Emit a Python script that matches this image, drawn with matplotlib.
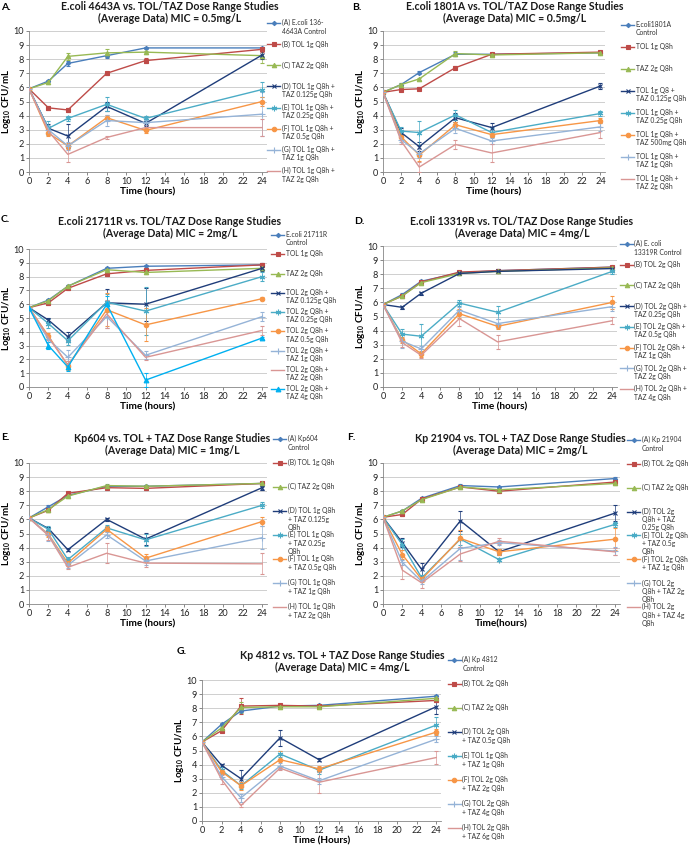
import matplotlib
matplotlib.use('Agg')
import matplotlib.pyplot as plt
from matplotlib.lines import Line2D

plt.rcParams['font.family'] = ['Lato', 'DejaVu Sans']
plt.rcParams['mathtext.fontset'] = 'custom'
plt.rcParams['mathtext.rm'] = 'Lato'
plt.rcParams['mathtext.bf'] = 'Lato:bold'

W, H = 691, 849
times = [0, 2, 4, 8, 12, 24]
xticks = [0, 2, 4, 6, 8, 10, 12, 14, 16, 18, 20, 22, 24]
yticks = [0, 1, 2, 3, 4, 5, 6, 7, 8, 9, 10]

# ---------------- Panel A ----------------
A_title = "E.coli 4643A vs. TOL/TAZ Dose Range Studies\n(Average Data) MIC = 0.5mg/L"
A_labels = ["(A) E.coli 136-\n4643A Control", "(B) TOL 1g Q8h", "(C) TAZ 2g Q8h",
            "(D) TOL 1g Q8h +\nTAZ 0.125g Q8h", "(E) TOL 1g Q8h +\nTAZ 0.25g Q8h",
            "(F) TOL 1g Q8h +\nTAZ 0.5g Q8h", "(G) TOL 1g Q8h +\nTAZ 1g Q8h",
            "(H) TOL 1g Q8h +\nTAZ 2g Q8h"]
A_vals = [[5.9, 6.45, 7.7, 8.25, 8.8, 8.8],
          [5.9, 4.55, 4.4, 7.0, 7.9, 8.7],
          [5.9, 6.35, 8.2, 8.45, 8.5, 8.25],
          [5.9, 3.1, 2.55, 4.65, 3.45, 8.3],
          [5.9, 3.1, 3.8, 4.8, 3.8, 5.85],
          [5.9, 2.75, 1.85, 3.85, 2.95, 5.0],
          [5.9, 3.0, 1.85, 3.65, 3.5, 4.1],
          [5.9, 2.9, 1.25, 2.45, 3.15, 3.15]]
A_errs = [[0, 0.1, 0.15, 0.15, 0.1, 0.1],
          [0, 0.15, 0.15, 0.1, 0.15, 0.2],
          [0, 0.1, 0.25, 0.3, 0.1, 0.5],
          [0, 0.3, 0.85, 0.3, 0.2, 0.3],
          [0, 0.5, 0.2, 0.5, 0.2, 0.55],
          [0, 0.2, 0.2, 0.2, 0.2, 0.3],
          [0, 0.3, 0.3, 0.4, 0.2, 1.55],
          [0, 0.2, 0.55, 0.1, 0.2, 0.6]]

# ---------------- Panel B ----------------
B_title = "E.coli 1801A vs. TOL/TAZ Dose Range Studies\n(Average Data) MIC = 0.5mg/L"
B_labels = ["E.coli1801A\nControl", "TOL 1g Q8h", "TAZ 2g Q8h",
            "TOL 1g Q8 +\nTAZ 0.125g Q8h", "TOL 1g Q8h +\nTAZ 0.25g Q8h",
            "TOL 1g Q8h +\nTAZ 500mg Q8h", "TOL 1g Q8h +\nTAZ 1g Q8h",
            "TOL 1g Q8h +\nTAZ 2g Q8h"]
B_vals = [[5.65, 6.2, 7.05, 8.35, 8.35, 8.45],
          [5.65, 5.85, 5.9, 7.4, 8.35, 8.5],
          [5.65, 6.2, 6.6, 8.4, 8.3, 8.45],
          [5.65, 2.8, 1.8, 3.85, 3.15, 6.1],
          [5.65, 2.9, 2.8, 4.05, 2.8, 4.15],
          [5.65, 2.5, 1.2, 3.35, 2.65, 3.65],
          [5.65, 2.3, 1.3, 3.1, 2.2, 3.2],
          [5.65, 2.2, 0.35, 1.95, 1.35, 2.8]]
B_errs = [[0, 0.1, 0.1, 0.15, 0.1, 0.1],
          [0, 0.1, 0.1, 0.1, 0.1, 0.1],
          [0, 0.1, 0.1, 0.2, 0.1, 0.1],
          [0, 0.3, 0.3, 0.3, 0.3, 0.2],
          [0, 0.3, 0.85, 0.35, 0.35, 0.15],
          [0, 0.2, 0.4, 0.2, 0.2, 0.2],
          [0, 0.2, 0.3, 0.3, 0.2, 0.3],
          [0, 0.2, 0.35, 0.35, 0.65, 0.4]]

# ---------------- Panel C ----------------
C_title = "E.coli 21711R vs. TOL/TAZ Dose Range Studies\n(Average Data) MIC = 2mg/L"
C_labels = ["E.coli 21711R\nControl", "TOL 1g Q8h", "TAZ 2g Q8h",
            "TOL 2g Q8h +\nTAZ 0.125g Q8h", "TOL 2g Q8h +\nTAZ 0.25g Q8h",
            "TOL 2g Q8h +\nTAZ 0.5g Q8h", "TOL 2g Q8h +\nTAZ 1g Q8h",
            "TOL 2g Q8h +\nTAZ 2g Q8h", "TOL 2g Q8h +\nTAZ 4g Q8h"]
C_vals = [[5.75, 6.3, 7.3, 8.6, 8.75, 8.85],
          [5.75, 6.1, 7.15, 8.2, 8.45, 8.85],
          [5.75, 6.25, 7.3, 8.5, 8.3, 8.6],
          [5.75, 4.85, 3.65, 6.1, 6.0, 8.6],
          [5.75, 4.6, 3.35, 6.15, 5.5, 8.0],
          [5.75, 3.7, 1.55, 5.6, 4.5, 6.4],
          [5.75, 3.45, 2.15, 5.1, 2.3, 5.1],
          [5.75, 3.6, 1.6, 5.3, 2.15, 4.1],
          [5.75, 3.0, 1.45, 6.0, 0.5, 3.55]]
C_errs = [[0, 0.1, 0.1, 0.1, 0.1, 0.1],
          [0, 0.15, 0.1, 0.15, 0.1, 0.1],
          [0, 0.1, 0.1, 0.1, 0.1, 0.1],
          [0, 0.15, 0.3, 1.0, 1.2, 0.2],
          [0, 0.3, 0.3, 0.6, 1.75, 0.3],
          [0, 0.2, 0.3, 1.2, 1.2, 0.1],
          [0, 0.2, 0.5, 0.8, 0.3, 0.35],
          [0, 0.2, 0.3, 1.0, 0.2, 0.35],
          [0, 0.25, 0.3, 0.6, 0.5, 0.1]]

# ---------------- Panel D ----------------
D_title = "E.coli 13319R vs. TOL/TAZ Dose Range Studies\n(Average Data) MIC = 4mg/L"
D_labels = ["(A) E. coli\n13319R Control", "(B) TOL 2g Q8h", "(C) TAZ 2g Q8h",
            "(D) TOL 2g Q8h +\nTAZ 0.25g Q8h", "(E) TOL 2g Q8h +\nTAZ 0.5g Q8h",
            "(F) TOL 2g Q8h +\nTAZ 1g Q8h", "(G) TOL 2g Q8h +\nTAZ 2g Q8h",
            "(H) TOL 2g Q8h +\nTAZ 4g Q8h"]
D_vals = [[5.85, 6.55, 7.5, 8.1, 8.25, 8.5],
          [5.85, 6.45, 7.45, 8.15, 8.25, 8.5],
          [5.85, 6.45, 7.4, 8.05, 8.2, 8.45],
          [5.85, 5.65, 6.65, 8.05, 8.2, 8.4],
          [5.85, 3.75, 3.6, 5.95, 5.3, 8.2],
          [5.85, 3.35, 2.35, 5.2, 4.3, 6.0],
          [5.85, 3.25, 2.7, 5.45, 4.5, 5.7],
          [5.85, 3.15, 2.25, 4.85, 3.2, 4.7]]
D_errs = [[0, 0.1, 0.1, 0.1, 0.1, 0.1],
          [0, 0.1, 0.1, 0.1, 0.1, 0.1],
          [0, 0.1, 0.1, 0.1, 0.1, 0.1],
          [0, 0.1, 0.1, 0.1, 0.1, 0.1],
          [0, 0.35, 0.9, 0.2, 0.45, 0.2],
          [0, 0.2, 0.2, 0.3, 0.2, 0.45],
          [0, 0.5, 0.2, 0.2, 0.3, 0.3],
          [0, 0.3, 0.2, 0.5, 0.5, 0.25]]

# ---------------- Panel E ----------------
E_title = "Kp604 vs. TOL + TAZ Dose Range Studies\n(Average Data) MIC = 1mg/L"
E_labels = ["(A) Kp604\nControl", "(B) TOL 1g Q8h", "(C) TAZ 2g Q8h",
            "(D) TOL 1g Q8h\n+ TAZ 0.125g\nQ8h", "(E) TOL 1g Q8h\n+ TAZ 0.25g\nQ8h",
            "(F) TOL 1g Q8h\n+ TAZ 0.5g Q8h", "(G) TOL 1g Q8h\n+ TAZ 1g Q8h",
            "(H) TOL 1g Q8h\n+ TAZ 2g Q8h"]
E_vals = [[6.1, 6.9, 7.7, 8.35, 8.35, 8.55],
          [6.1, 6.65, 7.85, 8.25, 8.2, 8.55],
          [6.1, 6.7, 7.65, 8.4, 8.35, 8.55],
          [6.1, 5.35, 3.85, 6.0, 4.6, 8.25],
          [6.1, 5.3, 3.15, 5.4, 4.55, 7.0],
          [6.1, 4.95, 2.9, 5.3, 3.25, 5.85],
          [6.1, 4.9, 2.75, 4.9, 3.05, 4.7],
          [6.1, 4.85, 2.6, 3.6, 2.9, 2.85]]
E_errs = [[0, 0.1, 0.1, 0.1, 0.1, 0.1],
          [0, 0.1, 0.1, 0.1, 0.1, 0.1],
          [0, 0.1, 0.1, 0.1, 0.1, 0.1],
          [0, 0.1, 0.1, 0.1, 0.45, 0.15],
          [0, 0.2, 0.2, 0.2, 0.45, 0.2],
          [0, 0.2, 0.2, 0.2, 0.3, 0.3],
          [0, 0.45, 0.2, 0.2, 0.3, 0.8],
          [0, 0.3, 0.1, 0.7, 0.3, 0.75]]

# ---------------- Panel F ----------------
F_title = "Kp 21904 vs. TOL + TAZ Dose Range Studies\n(Average Data) MIC = 2mg/L"
F_labels = ["(A) Kp 21904\nControl", "(B) TOL 2g Q8h", "(C) TAZ 2g Q8h",
            "(D) TOL 2g\nQ8h + TAZ\n0.25g Q8h", "(E) TOL 2g Q8h\n+ TAZ 0.5g\nQ8h",
            "(F) TOL 2g Q8h\n+ TAZ 1g Q8h", "(G) TOL 2g\nQ8h + TAZ 2g\nQ8h",
            "(H) TOL 2g\nQ8h + TAZ 4g\nQ8h"]
F_vals = [[6.15, 6.6, 7.5, 8.4, 8.3, 8.9],
          [6.15, 6.35, 7.45, 8.3, 8.0, 8.65],
          [6.15, 6.6, 7.4, 8.3, 8.1, 8.55],
          [6.15, 4.35, 2.45, 5.9, 3.7, 6.45],
          [6.15, 4.2, 1.85, 4.6, 3.15, 5.65],
          [6.15, 3.5, 1.75, 4.65, 3.7, 4.6],
          [6.15, 2.95, 1.6, 3.95, 4.35, 3.75],
          [6.15, 2.4, 1.5, 3.55, 4.45, 3.7]]
F_errs = [[0, 0.1, 0.1, 0.1, 0.1, 0.1],
          [0, 0.1, 0.1, 0.1, 0.15, 0.1],
          [0, 0.1, 0.1, 0.1, 0.1, 0.1],
          [0, 0.3, 0.45, 0.7, 0.2, 0.55],
          [0, 0.4, 0.2, 0.4, 0.1, 0.2],
          [0, 0.3, 0.2, 0.6, 0.2, 0.8],
          [0, 0.2, 0.2, 0.8, 0.2, 0.3],
          [0, 0.6, 0.35, 0.5, 0.2, 0.25]]

# ---------------- Panel G ----------------
G_title = "Kp 4812 vs. TOL + TAZ Dose Range Studies\n(Average Data) MIC = 4mg/L"
G_labels = ["(A) Kp 4812\nControl", "(B) TOL 2g Q8h", "(C) TAZ 2g Q8h",
            "(D) TOL 2g Q8h\n+ TAZ 0.5g Q8h", "(E) TOL 1g Q8h\n+ TAZ 1g Q8h",
            "(F) TOL 2g Q8h\n+ TAZ 2g Q8h", "(G) TOL 2g Q8h\n+ TAZ 4g Q8h",
            "(H) TOL 2g Q8h\n+ TAZ 6g Q8h"]
G_vals = [[5.6, 6.85, 7.8, 8.15, 8.2, 8.85],
          [5.6, 6.4, 8.15, 8.2, 8.15, 8.55],
          [5.6, 6.6, 8.05, 8.1, 8.1, 8.7],
          [5.6, 3.95, 3.0, 5.9, 4.35, 8.1],
          [5.6, 3.6, 2.5, 4.75, 3.6, 6.8],
          [5.6, 3.5, 2.5, 4.35, 3.7, 6.3],
          [5.6, 3.15, 1.65, 3.9, 2.85, 5.8],
          [5.6, 2.95, 1.1, 3.75, 2.75, 4.5]]
G_errs = [[0, 0.1, 0.1, 0.1, 0.1, 0.1],
          [0, 0.1, 0.55, 0.1, 0.1, 0.1],
          [0, 0.1, 0.4, 0.1, 0.1, 0.1],
          [0, 0.1, 0.6, 0.55, 0.1, 0.5],
          [0, 0.2, 0.2, 0.2, 0.25, 0.6],
          [0, 0.2, 0.3, 0.6, 0.2, 0.2],
          [0, 0.2, 0.3, 0.2, 0.2, 0.2],
          [0, 0.3, 0.1, 0.1, 0.75, 0.45]]

# series styles: colour, marker, marker size
STY = [('#4A7EBB', 'D', 2.2), ('#BE4B48', 's', 3.0), ('#98B954', '^', 3.2),
       ('#1F3D7A', 'x', 3.2), ('#4BACC6', (6, 2, 0), 4.0), ('#F79646', 'o', 3.2),
       ('#95B3D7', '+', 4.0), ('#D99694', None, 0)]
STY_C = STY + [('#00B0F0', '^', 3.4)]

fig = plt.figure(figsize=(W / 100, H / 100), dpi=100)


def fx(px):
    return px / W


def fy(py):
    return 1 - py / H


def panel(letter, letter_xy, title, title_xy, vals, errs, labels, styles,
          ax_px, xlabel, leg_x, leg_first, leg_last):
    x0, ytop, width, ybot = ax_px
    ax = fig.add_axes([fx(x0), fy(ybot), width / W, (ybot - ytop) / H])
    for v, e, s in zip(vals, errs, styles):
        col, mk, ms = s
        ax.errorbar(times, v, yerr=e, color=col, lw=1.0, marker=mk, ms=ms,
                    mew=0.8, elinewidth=0.5, capsize=1.2, capthick=0.5,
                    ecolor=col, zorder=3)
    ax.set_xlim(0, 24.5)
    ax.set_ylim(0, 10)
    ax.set_xticks(xticks)
    ax.set_yticks(yticks)
    ax.tick_params(labelsize=6.6, colors='#595959', length=2, width=0.5,
                   pad=1.5, labelcolor='#222222')
    ax.grid(axis='y', color='#C8C8C8', lw=0.6)
    ax.set_axisbelow(True)
    for sp in ['top', 'right']:
        ax.spines[sp].set_visible(False)
    for sp in ['left', 'bottom']:
        ax.spines[sp].set_color('#868686')
        ax.spines[sp].set_linewidth(0.6)
    ax.set_xlabel(xlabel, fontsize=7.2, fontweight='bold', labelpad=1.0)
    ax.set_ylabel(r'Log$_{\mathbf{10}}$ CFU/mL', fontsize=7.0,
                  fontweight='bold', labelpad=0.5)
    fig.text(fx(letter_xy[0]), fy(letter_xy[1]), letter, fontsize=7.5,
             fontweight='bold', va='center', ha='left')
    fig.text(fx(title_xy[0]), fy(title_xy[1]), title, fontsize=7.6,
             fontweight='bold', ha='center', va='top', linespacing=1.15,
             color='#1a1a1a')
    n = len(labels)
    step = (leg_last - leg_first) / (n - 1)
    for i, (lab, s) in enumerate(zip(labels, styles)):
        col, mk, ms = s
        yc = leg_first + i * step
        ln = Line2D([fx(leg_x), fx(leg_x + 13)], [fy(yc), fy(yc)],
                    transform=fig.transFigure, color=col, lw=1.0)
        fig.add_artist(ln)
        if mk is not None:
            mkln = Line2D([fx(leg_x + 6.5)], [fy(yc)], transform=fig.transFigure,
                          color=col, marker=mk, ms=ms, mew=0.8, lw=0)
            fig.add_artist(mkln)
        fig.text(fx(leg_x + 14.5), fy(yc - 3.8), lab, fontsize=4.9, va='top',
                 ha='left', color='#333333', linespacing=1.2)
    return ax


panel('A.', (1, 8), A_title, (170, 1), A_vals, A_errs, A_labels, STY,
      (29, 31, 238, 172), 'Time (hours)', 267, 23, 171)
panel('B.', (352, 8), B_title, (515, 1), B_vals, B_errs, B_labels, STY,
      (383, 31, 222, 172), 'Time (hours)', 621, 25, 179)
panel('C.', (1, 220), C_title, (170, 216), C_vals, C_errs, C_labels, STY_C,
      (29, 249, 238, 387), 'Time (hours)', 271, 235, 389)
panel('D.', (354, 221), D_title, (522, 216), D_vals, D_errs, D_labels, STY,
      (383, 246, 234, 387), 'Time (hours)', 620, 244, 389)
panel('E.', (1, 437), E_title, (172, 433), E_vals, E_errs, E_labels, STY,
      (29, 463, 238, 604), 'Time (hours)', 273, 439, 607)
panel('F.', (347, 437), F_title, (520, 433), F_vals, F_errs, F_labels, STY,
      (383, 463, 237, 604), 'Time(hours)', 627, 440, 607)
panel('G.', (177, 652), G_title, (342, 650), G_vals, G_errs, G_labels, STY,
      (202, 680, 239, 821), 'Time (Hours)', 448, 660, 828)

fig.savefig('out.png', dpi=100)
